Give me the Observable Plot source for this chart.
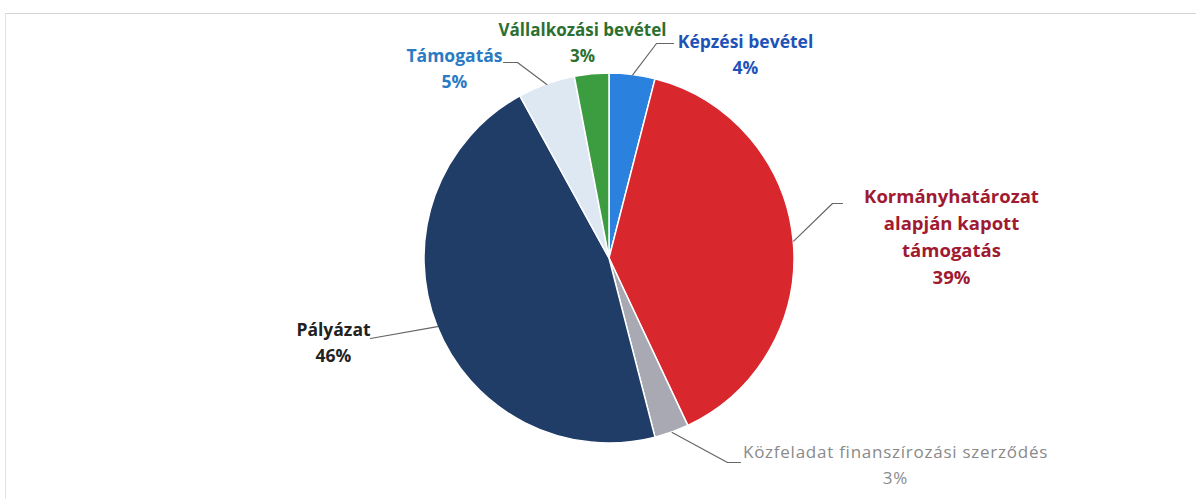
<!DOCTYPE html>
<html>
<head>
<meta charset="utf-8">
<script src="https://cdn.jsdelivr.net/npm/d3@7"></script>
<script src="https://cdn.jsdelivr.net/npm/@observablehq/plot@0.6"></script>
<style>
  html, body { margin: 0; padding: 0; background: #fff; }
  #chart svg { display: block; }
</style>
</head>
<body>
<div id="chart"></div>
<script>
// ---- data ----
const categories = [
  "Képzési bevétel",
  "Kormányhatározat alapján kapott támogatás",
  "Közfeladat finanszírozási szerződés",
  "Pályázat",
  "Támogatás",
  "Vállalkozási bevétel"
];
const shares = [4, 39, 3, 46, 5, 3];
const labelLines = [
  ["Képzési bevétel", "4%"],
  ["Kormányhatározat", "alapján kapott", "támogatás", "39%"],
  ["Közfeladat finanszírozási szerződés", "3%"],
  ["Pályázat", "46%"],
  ["Támogatás", "5%"],
  ["Vállalkozási bevétel", "3%"]
];

// ---- styles / layout ----
const sliceColors = ["#2a82de", "#d8282e", "#a9a9b3", "#1f3d66", "#dde8f3", "#3c9c40"];
const labelColors = ["#1f52b8", "#a01a32", "#8a8a8a", "#222222", "#2a7bc4", "#2b7030"];
const labelWeights = ["bold", "bold", "normal", "bold", "bold", "bold"];
const labelSizes = [17.5, 18.5, 17, 17.5, 17.5, 17];
const labelPos = [[745, 42], [951, 197], [895, 452], [333, 330], [454, 56], [582, 30]];
const lineSteps = [26, 26.7, 26, 26, 26, 26];
const leaderElbow = [[656, 43], [832, 203], [727, 462], [370, 338], [517, 62], null];
const leaderEnd = [[673, 43], [842, 203], [740, 462], [370, 338], [503, 62], null];
const W = 1203, H = 499;
const center = [609, 258];
const radius = 185;

const rows = categories.map((c, i) => ({category: c, share: shares[i], color: sliceColors[i]}));
const arcs = d3.pie().sort(null).value(d => d.share).startAngle(0)(rows);

// leader line points
const leaderPts = [];
arcs.forEach((a, i) => {
  if (!leaderEnd[i]) return;
  const mid = (a.startAngle + a.endAngle) / 2;
  leaderPts.push({k: i, x: center[0] + radius * Math.sin(mid), y: center[1] - radius * Math.cos(mid)});
  leaderPts.push({k: i, x: leaderElbow[i][0], y: leaderElbow[i][1]});
  leaderPts.push({k: i, x: leaderEnd[i][0], y: leaderEnd[i][1]});
});

// label text rows
const textRows = [];
labelLines.forEach((lines, i) => {
  lines.forEach((t, j) => textRows.push({
    text: t, x: labelPos[i][0], y: labelPos[i][1] + j * lineSteps[i],
    color: labelColors[i], weight: labelWeights[i], size: labelSizes[i]
  }));
});

function pieMark(index, scales, values, dimensions) {
  const cx = scales.x(center[0]), cy = scales.y(center[1]);
  const r = scales.x(center[0] + radius) - cx;
  const arc = d3.arc().innerRadius(0).outerRadius(r);
  const g = d3.create("svg:g").attr("transform", `translate(${cx},${cy})`);
  g.selectAll("path").data(arcs).join("path")
    .attr("d", arc)
    .attr("fill", d => d.data.color)
    .attr("stroke", "#ffffff")
    .attr("stroke-width", 1.5)
    .attr("stroke-linejoin", "round");
  return g.node();
}

const chart = Plot.plot({
  width: W,
  height: H,
  margin: 0,
  x: {domain: [0, W], range: [0, W], axis: null},
  y: {domain: [0, H], range: [0, H], axis: null},
  marks: [
    Plot.ruleY([13], {x1: 5, x2: 1196, stroke: "#d4d4d4", strokeWidth: 1}),
    Plot.ruleX([5], {y1: 13, y2: H, stroke: "#e2e2e2", strokeWidth: 1}),
    pieMark,
    Plot.line(leaderPts, {x: "x", y: "y", z: "k", stroke: "#666", strokeWidth: 1.2}),
    Plot.text(textRows.filter(d => d.weight === "bold"), {
      x: "x", y: "y", text: "text", fill: "color", fontSize: "size",
      fontWeight: "bold", fontFamily: "'Open Sans', sans-serif",
      textAnchor: "middle", lineAnchor: "middle"
    }),
    Plot.text(textRows.filter(d => d.weight !== "bold"), {
      x: "x", y: "y", text: "text", fill: "color", fontSize: "size",
      fontFamily: "'Open Sans', sans-serif",
      textAnchor: "middle", lineAnchor: "middle"
    })
  ]
});
chart.querySelectorAll("g[aria-label='text']").forEach((g, i) => {
  if (i === 1) g.setAttribute("letter-spacing", "0.75");
});
document.getElementById("chart").appendChild(chart);
</script>
</body>
</html>
